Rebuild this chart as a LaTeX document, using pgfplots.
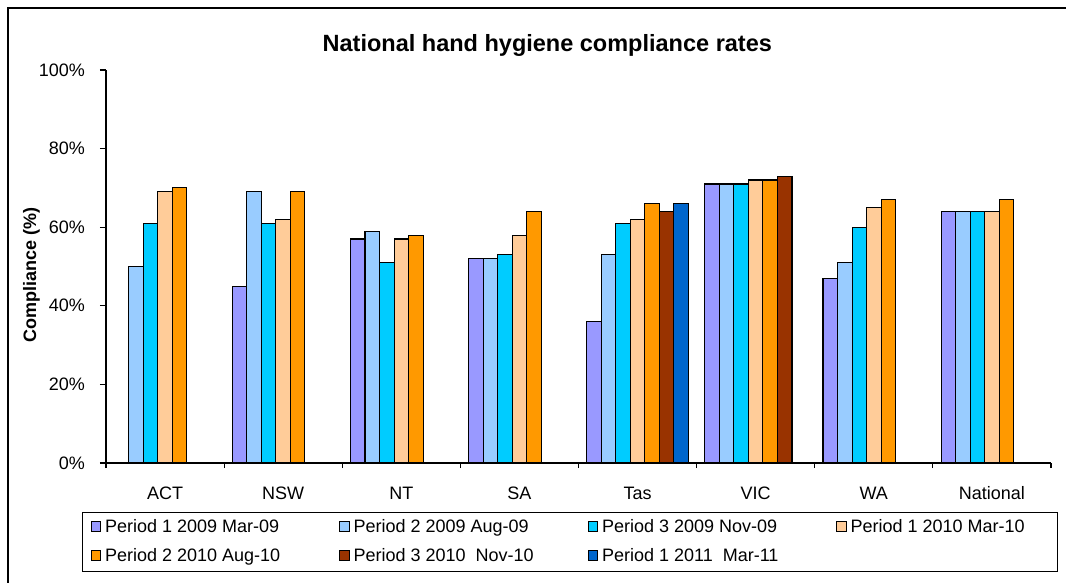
\documentclass[border=0pt]{standalone}
\usepackage{fontspec}
\setmainfont{Liberation Sans}
\usepackage{pgfplots}
\pgfplotsset{compat=1.18}

\definecolor{pA}{HTML}{9999FF}
\definecolor{pB}{HTML}{99CCFF}
\definecolor{pC}{HTML}{00CCFF}
\definecolor{pD}{HTML}{FFCC99}
\definecolor{pE}{HTML}{FF9900}
\definecolor{pF}{HTML}{993300}
\definecolor{pG}{HTML}{0066CC}

\newcommand{\lbl}{\fontsize{18}{20}\selectfont}

\begin{document}
\begin{tikzpicture}[x=1pt,y=1pt]
\useasboundingbox (0,0) rectangle (1066,582);
% chart frame (left and top edges only are inside the picture)
\draw[line width=1.2pt] (8,-5) -- (8,574) -- (1070,574);
\begin{axis}[
    at={(106pt,119pt)}, anchor=south west,
    scale only axis, width=945pt, height=393pt,
    ybar=0pt, bar width=0.1228,
    xmin=-0.5, xmax=7.5, ymin=0, ymax=100,
    axis lines=left,
    axis line style={-, line width=1.2pt},
    xtick={0,...,7},
    xticklabels={ACT,NSW,NT,SA,Tas,VIC,WA,National},
    major x tick style={draw=none},
    minor xtick={-0.5,0.5,...,7.5},
    ytick={0,20,...,100},
    yticklabels={0\%,20\%,40\%,60\%,80\%,100\%},
    tick align=outside,
    major tick length=6pt, minor tick length=5pt,
    tick style={black, line width=1.2pt},
    ticklabel style={font=\lbl},
    xticklabel style={anchor=base, inner sep=0pt, yshift=-30pt},
    yticklabel style={anchor=east, inner sep=0pt, xshift=-15pt},
    title={National hand hygiene compliance rates},
    title style={at={(axis description cs:0.467,1.033)}, anchor=base,
        inner sep=0pt, font=\bfseries\fontsize{23.5}{26}\selectfont},
    ylabel={Compliance (\%)},
    ylabel style={at={(axis description cs:-0.0788,0.478)}, anchor=center,
        font=\bfseries\lbl},
    every axis plot/.append style={draw=black, line width=1.1pt},
    legend columns=4,
    legend cell align=left,
    legend image code/.code={\draw[#1,/tikz/.cd,line width=1pt] (0pt,-3.5pt) rectangle (9.5pt,6pt);},
    legend style={at={(axis description cs:-0.0254,-0.1247)}, anchor=north west,
        draw=black, line width=1.2pt, inner xsep=8pt, inner ysep=6pt,
        column sep=4pt, row sep=11pt, font=\lbl,
        nodes={inner sep=0pt, text height=14pt, text depth=4pt}},
]
\addplot[fill=pA] coordinates {(1,45) (2,57) (3,52) (4,36) (5,71) (6,47) (7,64)};
\addplot[fill=pB] coordinates {(0,50) (1,69) (2,59) (3,52) (4,53) (5,71) (6,51) (7,64)};
\addplot[fill=pC] coordinates {(0,61) (1,61) (2,51) (3,53) (4,61) (5,71) (6,60) (7,64)};
\addplot[fill=pD] coordinates {(0,69) (1,62) (2,57) (3,58) (4,62) (5,72) (6,65) (7,64)};
\addplot[fill=pE] coordinates {(0,70) (1,69) (2,58) (3,64) (4,66) (5,72) (6,67) (7,67)};
\addplot[fill=pF] coordinates {(4,64) (5,73)};
\addplot[fill=pG] coordinates {(4,66)};
\addlegendentry{\makebox[230pt][l]{Period 1 2009 Mar-09}}
\addlegendentry{\makebox[230pt][l]{Period 2 2009 Aug-09}}
\addlegendentry{\makebox[230pt][l]{Period 3 2009 Nov-09}}
\addlegendentry{\makebox[199pt][l]{Period 1 2010 Mar-10}}
\addlegendentry{\makebox[230pt][l]{Period 2 2010 Aug-10}}
\addlegendentry{\makebox[230pt][l]{Period 3 2010 \ Nov-10}}
\addlegendentry{\makebox[230pt][l]{Period 1 2011 \ Mar-11}}
\end{axis}
\end{tikzpicture}
\end{document}
